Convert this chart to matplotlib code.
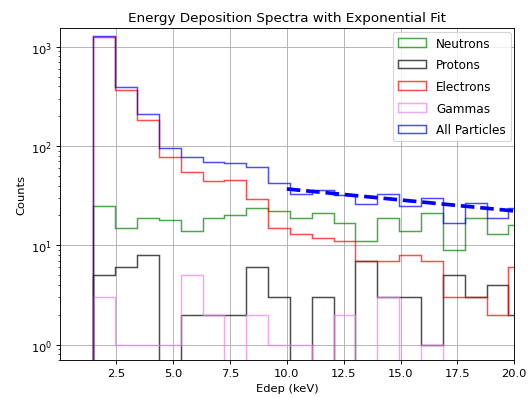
import numpy as np
import matplotlib
matplotlib.use('Agg')
import matplotlib.pyplot as plt

# bin layout (keV)
bin_start = 1.5
bin_width = 0.96
n_bins = 20

# counts per bin
neutrons = [25, 15, 19, 18, 14, 19, 20, 24, 22, 19, 21, 17, 11, 19, 14, 21, 9, 19, 13, 16]
protons = [5, 6, 8, 0, 2, 2, 2, 6, 3, 0, 3, 0, 7, 3, 3, 1, 5, 3, 4, 2]
electrons = [1262, 370, 182, 77, 55, 44, 46, 29, 15, 13, 12, 11, 7, 7, 8, 7, 3, 3, 2, 6]
gammas = [3, 1, 1, 1, 5, 2, 0, 2, 1, 1, 0, 2, 0, 3, 0, 1, 0, 0, 0, 0]
all_particles = [1295, 391, 210, 96, 78, 69, 68, 62, 42, 33, 36, 32, 26, 33, 25, 30, 17, 27, 19, 24]

# exponential fit on All Particles above 10 keV
fit_start = 10.0
fit_amp = 37.0
fit_decay = 0.051

edges = bin_start + bin_width * np.arange(n_bins + 1)
centers = 0.5 * (edges[:-1] + edges[1:])

fig = plt.figure(figsize=(528 / 82.5, 399 / 82.5), dpi=82.5)
ax = fig.add_subplot(111)
fig.subplots_adjust(left=0.1136, right=0.974, top=0.927, bottom=0.095)

series = [
    (neutrons, 'green', 'Neutrons'),
    (protons, 'black', 'Protons'),
    (electrons, 'red', 'Electrons'),
    (gammas, 'violet', 'Gammas'),
    (all_particles, 'blue', 'All Particles'),
]
for counts, col, lab in series:
    ax.hist(centers, bins=edges, weights=counts, histtype='step',
            color=col, alpha=0.7, linewidth=1.3, label=lab)

xf = np.linspace(fit_start, edges[-1], 100)
ax.plot(xf, fit_amp * np.exp(-fit_decay * (xf - fit_start)), 'b--', linewidth=3.2)

ax.set_yscale('log')
ax.set_xlim(0.03, 20.0)
ax.set_ylim(0.70, 1540)
ax.set_xlabel('Edep (keV)')
ax.set_ylabel('Counts')
ax.set_title('Energy Deposition Spectra with Exponential Fit', fontsize=11.8)
ax.grid(True)
ax.legend(loc='upper right', fontsize=10.5, handlelength=2.4, labelspacing=0.72,
          borderaxespad=0.3)

fig.savefig('out.png', dpi=82.5)
